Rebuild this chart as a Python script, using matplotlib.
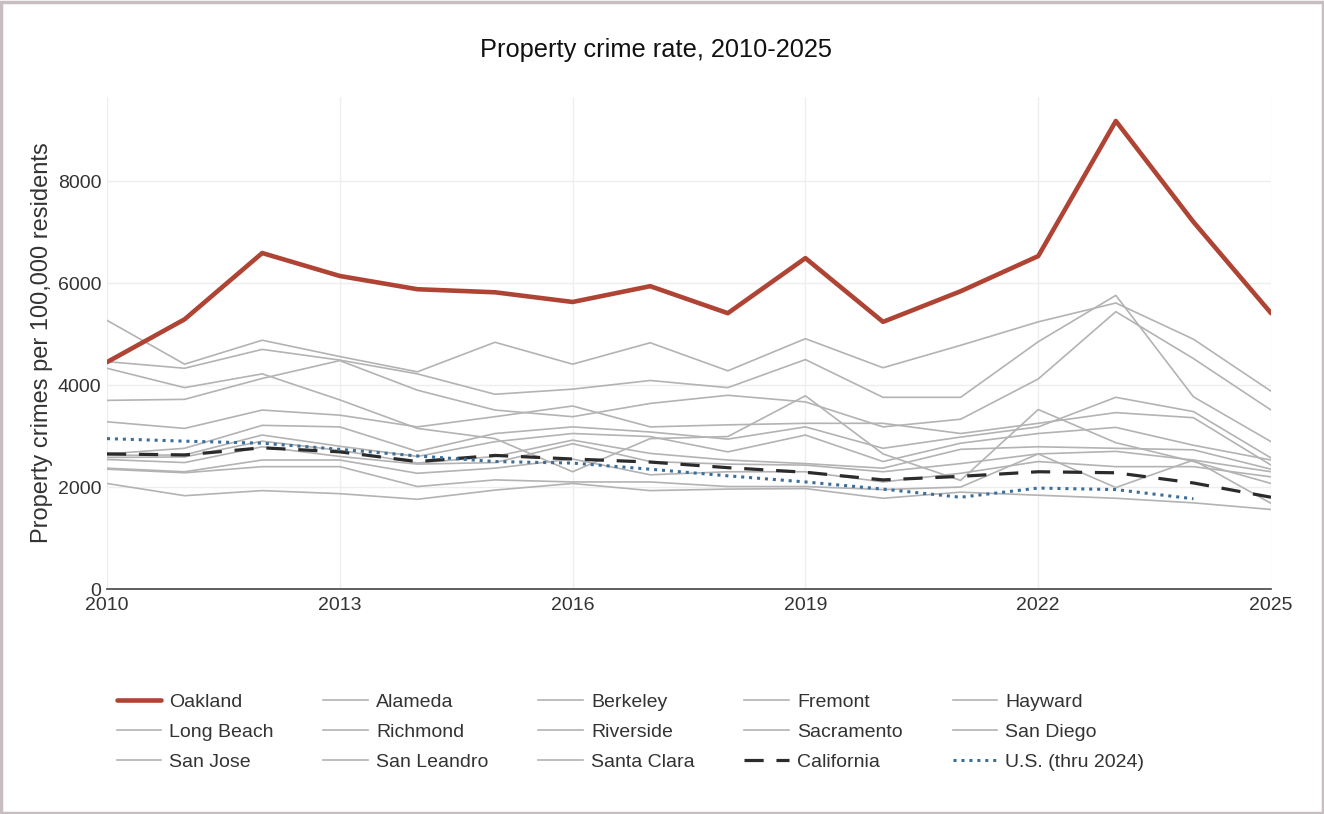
import matplotlib
matplotlib.use('Agg')
import matplotlib.pyplot as plt
from matplotlib.patches import Rectangle

plt.rcParams['font.family'] = ['Liberation Sans', 'DejaVu Sans']

# ---- data ----
years = list(range(2010, 2026))
us_years = list(range(2010, 2025))

oakland = [4450, 5290, 6590, 6140, 5880, 5820, 5630, 5940, 5410, 6490, 5240, 5840, 6530, 9180, 7200, 5410]
california = [2650, 2630, 2770, 2690, 2500, 2620, 2550, 2490, 2380, 2290, 2140, 2210, 2300, 2280, 2080, 1800]
us_total = [2950, 2900, 2860, 2740, 2610, 2500, 2470, 2350, 2220, 2100, 1960, 1800, 1980, 1950, 1770]

berkeley = [5270, 4410, 4880, 4560, 4260, 4840, 4410, 4830, 4280, 4910, 4340, 4780, 5240, 5610, 4900, 3880]
san_leandro = [4460, 4330, 4700, 4490, 4220, 3820, 3920, 4090, 3950, 4500, 3760, 3760, 4850, 5760, 3770, 2890]
hayward = [4330, 3950, 4220, 3710, 3150, 2950, 2300, 2950, 2990, 3790, 2650, 2130, 3520, 2870, 2500, 2070]
alameda = [3700, 3720, 4130, 4480, 3900, 3510, 3380, 3640, 3800, 3670, 3180, 3330, 4120, 5440, 4520, 3510]
sacramento = [3280, 3150, 3510, 3410, 3180, 3380, 3590, 3180, 3220, 3250, 3250, 3050, 3250, 3460, 3360, 2430]
richmond = [2650, 2760, 3210, 3180, 2700, 3050, 3180, 3080, 2940, 3180, 2760, 2980, 3180, 3760, 3480, 2570]
san_jose = [2620, 2630, 3020, 2800, 2600, 2890, 3050, 2990, 2690, 3020, 2500, 2860, 3050, 3170, 2820, 2530]
long_beach = [2580, 2590, 2900, 2720, 2470, 2600, 2920, 2660, 2530, 2460, 2370, 2740, 2790, 2760, 2730, 2350]
santa_clara = [2540, 2480, 2790, 2600, 2450, 2480, 2850, 2500, 2450, 2430, 2300, 2460, 2650, 2700, 2530, 2300]
riverside = [2370, 2300, 2530, 2530, 2270, 2370, 2550, 2240, 2300, 2300, 2100, 2270, 2500, 2400, 2400, 2200]
fremont = [2350, 2280, 2400, 2400, 2010, 2140, 2100, 2100, 2010, 2010, 1950, 2000, 2650, 1990, 2530, 1680]
san_diego = [2070, 1830, 1930, 1870, 1760, 1940, 2070, 1930, 1960, 1970, 1780, 1900, 1840, 1780, 1690, 1560]

cities = {
    'Alameda': alameda,
    'Berkeley': berkeley,
    'Fremont': fremont,
    'Hayward': hayward,
    'Long Beach': long_beach,
    'Richmond': richmond,
    'Riverside': riverside,
    'Sacramento': sacramento,
    'San Diego': san_diego,
    'San Jose': san_jose,
    'San Leandro': san_leandro,
    'Santa Clara': santa_clara,
}

yticks = [0, 2000, 4000, 6000, 8000]
xticks = [2010, 2013, 2016, 2019, 2022, 2025]

OAK_COLOR = '#b04434'
GRAY = '#b3b3b3'
TEXT = '#333333'

fig = plt.figure(figsize=(13.24, 8.14), dpi=100)
ax = fig.add_axes([0.0808, 0.2764, 0.8792, 0.6044])

handles = {}
for name, vals in cities.items():
    handles[name], = ax.plot(years, vals, color=GRAY, lw=1.2, label=name)
handles['California'], = ax.plot(years, california, color='#2b2b2b', lw=2.3,
                                 dashes=(6, 4), label='California')
handles['U.S. (thru 2024)'], = ax.plot(us_years, us_total, color='#3b6e98', lw=2.2,
                                       dashes=(1, 1.6), label='U.S. (thru 2024)')
handles['Oakland'], = ax.plot(years, oakland, color=OAK_COLOR, lw=3.3, label='Oakland',
                              solid_capstyle='round')

ax.set_xlim(2010, 2025)
ax.set_ylim(0, 9650)
ax.set_xticks(xticks)
ax.set_yticks(yticks)
ax.tick_params(length=0, labelsize=14, colors=TEXT, pad=4)
ax.tick_params(axis='x', pad=6)
ax.grid(color='#eeeeee', lw=1)
ax.set_axisbelow(True)
for s in ['top', 'right', 'left']:
    ax.spines[s].set_visible(False)
ax.spines['bottom'].set_color('#444444')
ax.spines['bottom'].set_linewidth(1.2)

ax.set_ylabel('Property crimes per 100,000 residents', fontsize=17, color=TEXT, labelpad=3.5)
fig.text(0.4955, 0.938, 'Property crime rate, 2010-2025', ha='center', va='center',
         fontsize=18.3, color='#111111')

# legend is filled row-wise in the reference -> reorder for matplotlib's column-major fill
rows = [
    ['Oakland', 'Alameda', 'Berkeley', 'Fremont', 'Hayward'],
    ['Long Beach', 'Richmond', 'Riverside', 'Sacramento', 'San Diego'],
    ['San Jose', 'San Leandro', 'Santa Clara', 'California', 'U.S. (thru 2024)'],
]
order = [rows[r][c] for c in range(5) for r in range(3)]
leg = fig.legend([handles[n] for n in order], order, ncol=5, loc='upper left',
                 bbox_to_anchor=(0.088, 0.1484), frameon=False, fontsize=14,
                 handlelength=2.3, handletextpad=0.42, columnspacing=2.55,
                 labelspacing=0.63, borderaxespad=0, borderpad=0)
for t in leg.get_texts():
    t.set_color(TEXT)

fig.patches.append(Rectangle((0.001, 0.001), 0.998, 0.997, transform=fig.transFigure,
                             fill=False, edgecolor='#c8bec1', lw=2.5))

fig.savefig('out.png', dpi=100)
